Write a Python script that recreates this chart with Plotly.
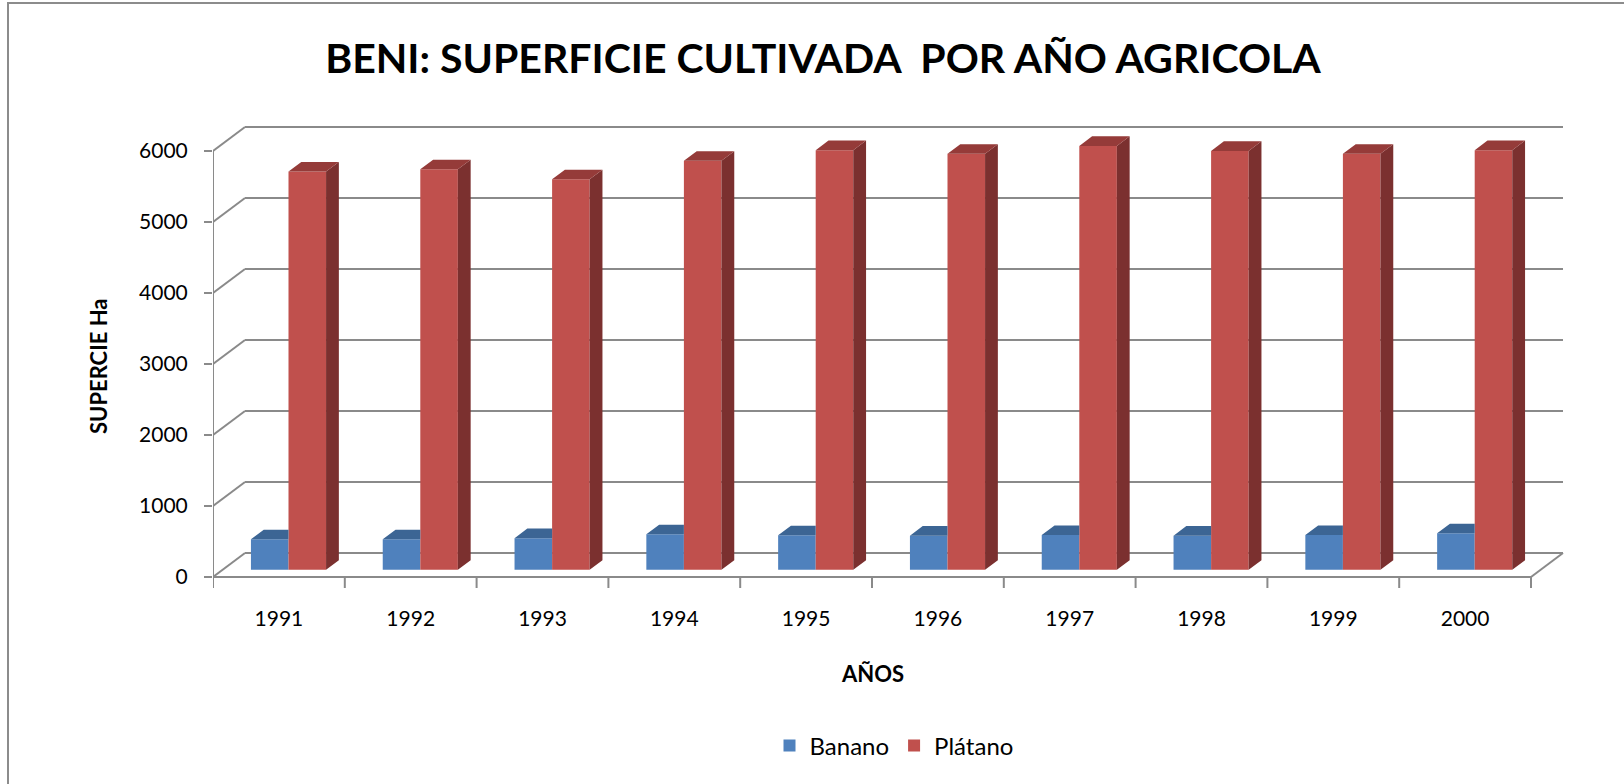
import plotly.graph_objects as go

# ---------------- data ----------------
years = ["1991", "1992", "1993", "1994", "1995", "1996", "1997", "1998", "1999", "2000"]
banano = [430, 430, 445, 500, 485, 480, 490, 480, 490, 515]
platano = [5610, 5640, 5500, 5760, 5910, 5860, 5970, 5900, 5860, 5910]
y_ticks = [0, 1000, 2000, 3000, 4000, 5000, 6000]

title_text = "BENI: SUPERFICIE CULTIVADA  POR AÑO AGRICOLA"
y_title = "SUPERCIE Ha"
x_title = "AÑOS"
series_names = ["Banano", "Plátano"]

# ---------------- style / geometry ----------------
W, H = 1624, 784
L, R, T, B = 213, 1575, 110, 588       # plot area in pixels
Y0_PX = 577                             # pixel row of value 0 on the front plane
PXY = 0.071                             # pixels per value unit
PXX = 131.8                             # pixels per category
DX = 32 / PXX                           # full-depth offset (x units)
DY = 24 / PXY                           # full-depth offset (y units)
T0, T1 = 0.30, 0.70                     # bar depth span (fraction of depth)
BW = 0.285                              # bar width (category units)

BLUE, BLUE_TOP = "#4F81BD", "#3C6594"
RED, RED_TOP, RED_SIDE = "#C0504D", "#953B39", "#7B302F"
GRID = "#8A8A8A"
FONT = "Lato"

y_lo = -(B - Y0_PX) / PXY
y_hi = (Y0_PX - T) / PXY
x_lo = -0.5
x_hi = x_lo + (R - L) / PXX

n = len(years)
xs = list(range(n))
d = T1 - T0
base = T0 * DY
xf = [i + T0 * DX for i in xs]          # front-face centre (between the two bars)

fig = go.Figure()

# front faces as real bars
fig.add_trace(go.Bar(x=xf, y=banano, base=base, width=BW, offset=-BW,
                     marker=dict(color=BLUE, line=dict(width=0)),
                     name=series_names[0], hoverinfo="skip"))
fig.add_trace(go.Bar(x=xf, y=platano, base=base, width=BW, offset=0,
                     marker=dict(color=RED, line=dict(width=0)),
                     name=series_names[1], hoverinfo="skip"))

# 3-D faces derived from the data
def poly_trace(px, py, color):
    return go.Scatter(x=px, y=py, mode="lines", fill="toself", fillcolor=color,
                      line=dict(width=0, color=color), showlegend=False,
                      hoverinfo="skip")

bt_x, bt_y, rt_x, rt_y, rs_x, rs_y = [], [], [], [], [], []
for i in xs:
    c = xf[i]
    # blue top (clipped where red front face hides it)
    xl, xr, top = c - BW, c, base + banano[i]
    bt_x += [xl, xr, xr, xl + d * DX, xl, None]
    bt_y += [top, top, top + d * DY, top + d * DY, top, None]
    # red top
    xl, xr, top = c, c + BW, base + platano[i]
    rt_x += [xl, xr, xr + d * DX, xl + d * DX, xl, None]
    rt_y += [top, top, top + d * DY, top + d * DY, top, None]
    # red side
    rs_x += [xr, xr + d * DX, xr + d * DX, xr, xr, None]
    rs_y += [base, base + d * DY, top + d * DY, top, base, None]

fig.add_trace(poly_trace(bt_x, bt_y, BLUE_TOP))
fig.add_trace(poly_trace(rs_x, rs_y, RED_SIDE))
fig.add_trace(poly_trace(rt_x, rt_y, RED_TOP))

# walls / floor / axes lines (derived from the tick values & category count)
shapes = []
line = dict(color=GRID, width=2)
for v in y_ticks:
    shapes.append(dict(type="line", layer="below", xref="x", yref="y",
                       x0=x_lo, y0=v, x1=x_lo + DX, y1=v + DY, line=line))
    shapes.append(dict(type="line", layer="below", xref="x", yref="y",
                       x0=x_lo + DX, y0=v + DY, x1=n - 0.5 + DX, y1=v + DY, line=line))
# front vertical axis
shapes.append(dict(type="line", layer="below", xref="x", yref="y",
                   x0=x_lo, y0=0, x1=x_lo, y1=y_ticks[-1], line=line))
# front floor edge + right floor diagonal
shapes.append(dict(type="line", layer="below", xref="x", yref="y",
                   x0=x_lo, y0=0, x1=n - 0.5, y1=0, line=line))
shapes.append(dict(type="line", layer="below", xref="x", yref="y",
                   x0=n - 0.5, y0=0, x1=n - 0.5 + DX, y1=DY, line=line))
# category tick marks
for k in range(n + 1):
    shapes.append(dict(type="line", layer="below", xref="x", yref="y",
                       x0=k - 0.5, y0=0, x1=k - 0.5, y1=y_lo, line=line))
# chart border
shapes.append(dict(type="rect", xref="paper", yref="paper",
                   x0=(8 - L) / (R - L), x1=(W + 20 - L) / (R - L),
                   y0=(B - (H + 20)) / (B - T), y1=(B - 3) / (B - T),
                   line=dict(color="#8C8C8C", width=2), fillcolor="rgba(0,0,0,0)"))

def px_to_paper(px, py):
    return (px - L) / (R - L), (B - py) / (B - T)

ax_x, ax_y = px_to_paper(98, 366)
tx_x, tx_y = px_to_paper(872, 673)

fig.update_layout(
    width=W, height=H,
    margin=dict(l=L, r=W - R, t=T, b=H - B, pad=0),
    paper_bgcolor="white", plot_bgcolor="white",
    font=dict(family=FONT, color="black", size=21),
    title=dict(text=title_text, x=823 / W, xanchor="center", xref="container",
               y=1 - 59 / H, yanchor="middle", yref="container",
               font=dict(family=FONT, size=41, color="black", weight="bold")),
    barmode="overlay",
    showlegend=True,
    legend=dict(orientation="h", x=0.5, xanchor="center",
                y=px_to_paper(0, 746)[1], yanchor="middle",
                font=dict(family=FONT, size=24, color="black"),
                itemwidth=30, traceorder="normal"),
    xaxis=dict(range=[x_lo, x_hi], tickvals=xs, ticktext=years, ticks="",
               showgrid=False, zeroline=False, showline=False,
               ticklabelstandoff=16, tickfont=dict(size=21), fixedrange=True),
    yaxis=dict(range=[y_lo, y_hi], tickvals=y_ticks, ticks="outside", ticklen=8,
               tickwidth=2, tickcolor=GRID, showgrid=False, zeroline=False,
               showline=False, ticklabelstandoff=12, tickfont=dict(size=21),
               fixedrange=True),
    shapes=shapes,
    annotations=[
        dict(text=y_title, xref="paper", yref="paper", x=ax_x, y=ax_y,
             showarrow=False, textangle=-90, xanchor="center", yanchor="middle",
             font=dict(family=FONT, size=22, color="black", weight="bold")),
        dict(text=x_title, xref="paper", yref="paper", x=tx_x, y=tx_y,
             showarrow=False, xanchor="center", yanchor="middle",
             font=dict(family=FONT, size=22, color="black", weight="bold")),
    ],
)

fig.write_html("out.html", config={"displayModeBar": False, "responsive": False},
               post_script="document.body.style.margin='0';document.body.style.overflow='hidden';")
